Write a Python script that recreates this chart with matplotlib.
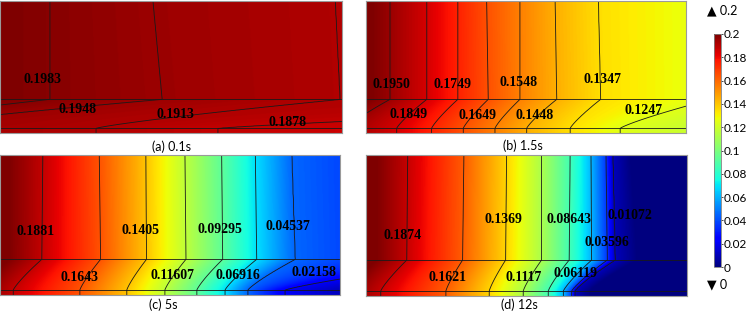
import numpy as np
import matplotlib
matplotlib.use("Agg")
import matplotlib.pyplot as plt
from matplotlib.cm import ScalarMappable
from matplotlib.colors import Normalize

plt.rcParams['font.family'] = ['Lato', 'DejaVu Sans']

# layer boundaries (percent of panel height, measured from the bottom)
Y_BOUND = 25.5
Y_THIN = 3.5

# --- data ------------------------------------------------------------
# contour levels and their x position (percent of panel width) at the top
# edge, at the layer boundary and at the thin bottom layer.
# first and last entries are edge values that are not drawn.
levels_a = [0.2, 0.1983, 0.1948, 0.1913, 0.1878, 0.1843]
top_a = [0.0, 14.6, 44.7, 98.0, 266.0, 439.0]
mid_a = [0.0, 14.6, 47.4, 99.4, 266.0, 439.0]
low_a = [-88.0, -48.5, -33.3, 28.1, 63.7, 175.0]
labels_a = ["0.1983", "0.1948", "0.1913", "0.1878"]
lab_x_a = [12.5, 22.7, 51.3, 84.1]
lab_y_a = [40.2, 18.0, 14.2, 7.8]

levels_b = [0.2, 0.1950, 0.1849, 0.1749, 0.1649, 0.1548, 0.1448, 0.1347, 0.1247, 0.1147]
top_b = [1.6, 7.5, 19.0, 28.7, 37.7, 48.1, 59.1, 72.6, 107.8, 142.2]
mid_b = [1.6, 7.5, 19.0, 28.7, 38.2, 48.1, 59.6, 73.3, 107.8, 142.2]
low_b = [-15.6, -6.1, 9.6, 20.5, 30.4, 40.3, 50.2, 63.8, 79.4, 113.8]
labels_b = ["0.1950", "0.1749", "0.1548", "0.1347", "0.1849", "0.1649", "0.1448", "0.1247"]
lab_x_b = [7.8, 27.1, 47.6, 73.8, 13.4, 34.9, 52.7, 86.7]
lab_y_b = [36.4, 36.4, 38.1, 40.7, 14.2, 13.6, 13.6, 17.4]

levels_c = [0.2, 0.1881, 0.1643, 0.1405, 0.11607, 0.09295, 0.06916, 0.04537, 0.02158, 0.0]
top_c = [2.4, 12.6, 29.2, 42.9, 54.4, 65.2, 75.1, 85.8, 139.1, 187.4]
mid_c = [2.4, 12.3, 29.6, 43.1, 54.7, 65.5, 75.5, 86.8, 139.1, 187.4]
low_c = [-5.9, 3.9, 23.5, 37.3, 48.5, 57.9, 66.2, 72.9, 83.8, 116.2]
labels_c = ["0.1881", "0.1405", "0.09295", "0.04537", "0.1643", "0.11607", "0.06916", "0.02158"]
lab_x_c = [10.4, 41.2, 64.6, 84.7, 23.4, 50.6, 70.1, 92.3]
lab_y_c = [45.2, 46.4, 47.1, 48.8, 12.4, 13.6, 13.6, 15.9]

levels_d = [0.2, 0.1874, 0.1621, 0.1369, 0.1117, 0.08643, 0.06119, 0.03596, 0.01072, 0.0]
top_d = [3.1, 13.0, 30.5, 43.8, 54.7, 63.6, 70.1, 74.8, 76.9, 82.6]
mid_d = [3.1, 12.7, 30.1, 43.5, 54.7, 63.3, 70.3, 75.2, 77.6, 84.7]
low_d = [-6.2, 4.6, 24.9, 38.4, 49.0, 56.8, 61.5, 64.1, 65.1, 70.1]
labels_d = ["0.1874", "0.1369", "0.08643", "0.01072", "0.03596", "0.1621", "0.1117", "0.06119"]
lab_x_d = [11.3, 42.8, 63.1, 82.2, 75.0, 25.3, 49.2, 65.3]
lab_y_d = [42.6, 54.4, 54.4, 57.4, 37.8, 13.0, 13.0, 16.1]

captions = ["(a) 0.1s", "(b) 1.5s", "(c) 5s", "(d) 12s"]
cbar_ticks = [0, 0.02, 0.04, 0.06, 0.08, 0.1, 0.12, 0.14, 0.16, 0.18, 0.2]
cbar_labels = ["0", "0.02", "0.04", "0.06", "0.08", "0.1", "0.12", "0.14", "0.16", "0.18", "0.2"]


def build_field(levels, x_top, x_mid, x_low, nx=500, ny=260):
    # field whose isolines pass through the read positions
    xs = np.linspace(0, 100, nx)
    ys = np.linspace(0, 100, ny)
    x_top, x_mid, x_low = map(np.asarray, (x_top, x_mid, x_low))
    F = np.empty((ny, nx))
    for j, y in enumerate(ys):
        if y >= Y_BOUND:
            s = (y - Y_BOUND) / (100 - Y_BOUND)
            pos = x_mid + (x_top - x_mid) * s
        else:
            t = max((y - Y_THIN) / (Y_BOUND - Y_THIN), 0.0) ** 1.2
            pos = x_low + (x_mid - x_low) * t
        F[j] = np.interp(xs, pos, levels)
    return xs, ys, F


fig = plt.figure(figsize=(7.48, 3.12), dpi=100)
W, H = 748, 312

# panel rectangles in pixels: left, top, right, bottom
boxes = [(0, 1, 342, 133), (366, 1, 686, 133), (0, 155, 340, 295), (366, 155, 687, 296)]
cap_pos = [(171, 147), (523, 146), (163, 305), (519, 305)]
panels = [
    (levels_a, top_a, mid_a, low_a, labels_a, lab_x_a, lab_y_a),
    (levels_b, top_b, mid_b, low_b, labels_b, lab_x_b, lab_y_b),
    (levels_c, top_c, mid_c, low_c, labels_c, lab_x_c, lab_y_c),
    (levels_d, top_d, mid_d, low_d, labels_d, lab_x_d, lab_y_d),
]

for (l, t, r, b), (lev, xt, xm, xl, labs, lx, ly), cap, (cx, cy) in zip(boxes, panels, captions, cap_pos):
    ax = fig.add_axes([l / W, (H - b) / H, (r - l) / W, (b - t) / H])
    xs, ys, F = build_field(lev, xt, xm, xl)
    ax.imshow(F, extent=[0, 100, 0, 100], origin='lower', cmap='jet',
              vmin=0, vmax=0.2, aspect='auto', interpolation='bilinear')
    drawn = sorted(lev[1:-1])
    ax.contour(xs, ys, F, levels=drawn, colors='#1a1a1a', linewidths=0.6)
    ax.axhline(Y_BOUND, color='#1a1a1a', lw=0.6)
    ax.axhline(Y_THIN, color='#1a1a1a', lw=0.6)
    for s, x, y in zip(labs, lx, ly):
        ax.text(x, y, s, ha='center', va='center', fontsize=10, fontweight='bold',
                family='Liberation Serif', color='black')
    ax.set_xlim(0, 100)
    ax.set_ylim(0, 100)
    ax.set_xticks([])
    ax.set_yticks([])
    for sp in ax.spines.values():
        sp.set_color('#9a9a9a')
        sp.set_linewidth(0.8)
    fig.text(cx / W, 1 - cy / H, cap, ha='center', va='center', fontsize=9)

# colour bar
cax = fig.add_axes([714 / W, (H - 267) / H, 7 / W, 233 / H])
sm = ScalarMappable(norm=Normalize(0, 0.2), cmap='jet')
cb = fig.colorbar(sm, cax=cax)
cb.set_ticks(cbar_ticks)
cb.set_ticklabels(cbar_labels)
cb.ax.tick_params(labelsize=8.5, length=1.5, width=0.5, pad=0.5)
cb.outline.set_edgecolor('#808080')
cb.outline.set_linewidth(0.6)
fig.text(707 / W, 1 - 10 / H, "\u25b2 0.2", ha='left', va='center', fontsize=9)
fig.text(707 / W, 1 - 284 / H, "\u25bc 0", ha='left', va='center', fontsize=9)

fig.savefig("out.png", dpi=100)
